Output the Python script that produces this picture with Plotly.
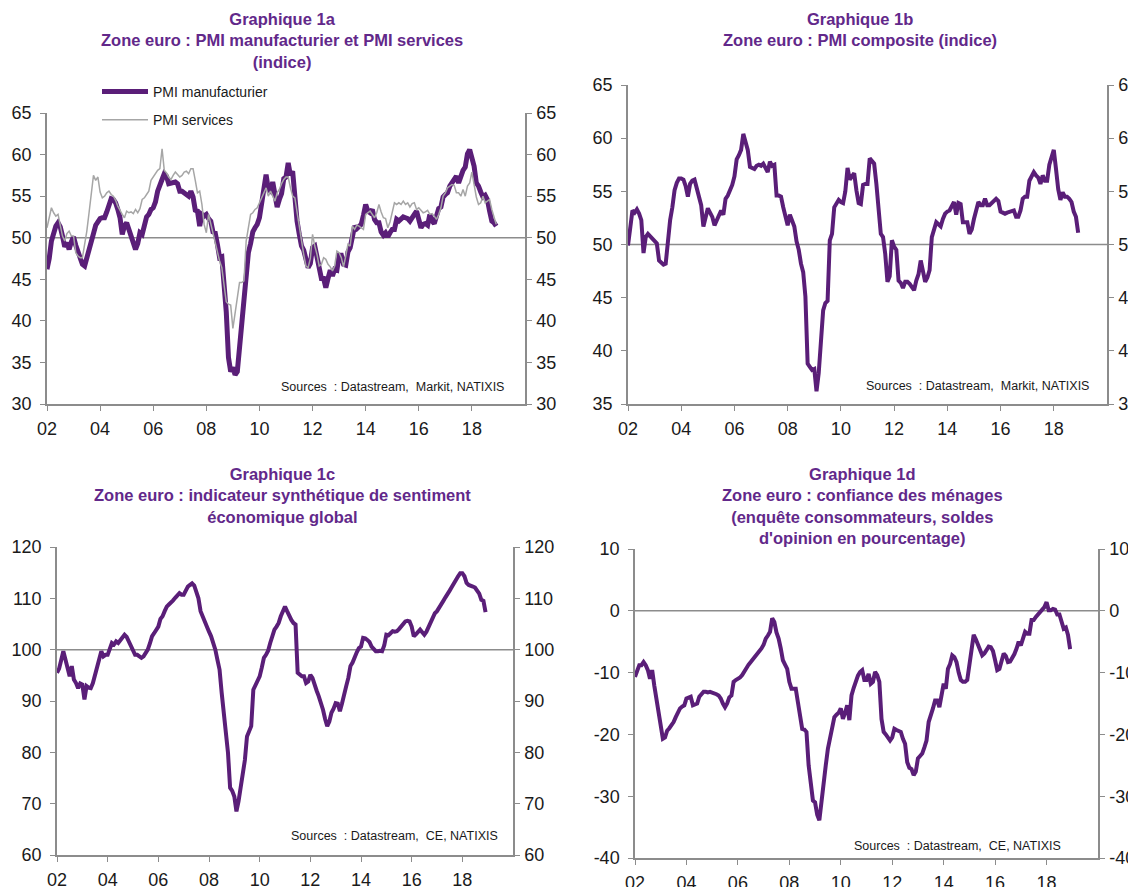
import plotly.graph_objects as go

# ---------------- data (monthly, Jan 2002 -> Dec 2018) ----------------
YEARS = list(range(2002, 2019))

pmi_manufacturier = [
    46.2, 47.5, 49.6, 50.7, 51.4, 51.8, 51.3, 50.2, 48.9, 49.4, 48.6, 49.5,  # 2002
    50.1, 49.1, 48.2, 47.8, 46.8, 46.6, 47.5, 48.4, 49.1, 50.5, 51.5, 52.0,  # 2003
    52.3, 52.4, 52.4, 53.1, 54.2, 54.7, 54.6, 54.2, 53.4, 52.4, 50.4, 51.4,  # 2004
    51.8, 51.0, 50.4, 49.6, 48.6, 49.3, 50.6, 50.4, 51.7, 52.5, 52.8, 53.4,  # 2005
    53.6, 54.3, 55.6, 56.5, 57.0, 57.7, 57.4, 56.5, 56.6, 56.6, 56.7, 56.5,  # 2006
    55.6, 55.6, 55.4, 55.3, 55.0, 55.6, 54.9, 53.3, 53.2, 51.4, 52.8, 52.6,  # 2007
    52.8, 52.3, 52.0, 50.7, 50.6, 49.2, 47.6, 47.7, 45.0, 41.1, 35.6, 33.9,  # 2008
    34.4, 33.5, 33.9, 36.8, 40.7, 42.6, 46.3, 48.2, 49.3, 50.7, 51.2, 51.6,  # 2009
    52.4, 54.2, 56.6, 57.6, 55.8, 55.6, 56.7, 55.1, 53.7, 54.6, 55.3, 57.1,  # 2010
    57.3, 59.0, 57.5, 58.0, 54.6, 52.0, 50.4, 49.0, 48.5, 47.1, 46.4, 46.9,  # 2011
    48.8, 49.0, 47.7, 45.9, 45.1, 45.1, 44.0, 45.1, 46.1, 45.4, 46.2, 46.1,  # 2012
    47.9, 47.9, 46.8, 46.7, 48.3, 48.8, 50.3, 51.4, 51.1, 51.3, 51.6, 52.7,  # 2013
    54.0, 53.2, 53.0, 53.4, 52.2, 51.8, 51.8, 50.7, 50.3, 50.6, 50.1, 50.6,  # 2014
    51.0, 51.0, 52.2, 52.0, 52.2, 52.5, 52.4, 52.3, 52.0, 52.3, 52.8, 53.2,  # 2015
    52.3, 51.2, 51.6, 51.7, 51.5, 52.8, 52.0, 51.7, 52.6, 53.5, 53.7, 54.9,  # 2016
    55.2, 55.4, 56.2, 56.7, 57.0, 57.4, 56.6, 57.4, 58.1, 58.5, 60.1, 60.6,  # 2017
    59.6, 58.6, 56.6, 56.2, 55.5, 54.9, 55.1, 54.6, 53.2, 52.0, 51.8, 51.4,  # 2018
]

pmi_services = [
    51.2, 52.3, 53.6, 53.0, 52.6, 52.8, 51.5, 50.2, 49.6, 50.5, 50.8, 50.2,  # 2002
    50.2, 48.2, 47.8, 47.6, 47.6, 49.0, 50.8, 53.0, 55.5, 57.5, 56.9, 57.3,  # 2003
    55.5, 54.8, 55.0, 55.4, 55.6, 55.2, 55.0, 54.5, 53.8, 53.2, 52.8, 52.4,  # 2004
    53.2, 53.0, 53.1, 52.9, 53.4, 53.0, 53.5, 54.6, 54.8, 55.2, 55.6, 56.9,  # 2005
    57.3, 57.6, 58.1, 58.3, 60.7, 58.1, 57.8, 57.3, 57.0, 57.5, 57.9, 57.6,  # 2006
    57.3, 57.5, 57.9, 58.0, 57.7, 58.3, 58.3, 56.9, 55.4, 55.6, 54.0, 51.6,  # 2007
    50.6, 52.8, 51.6, 50.5, 49.6, 48.0, 47.2, 46.4, 44.0, 42.3, 42.0, 41.9,  # 2008
    39.1, 41.1, 42.5, 44.6, 44.6, 44.8, 49.6, 51.0, 52.8, 53.0, 53.4, 53.6,  # 2009
    54.2, 54.8, 55.4, 56.0, 55.0, 55.6, 55.0, 54.4, 55.4, 55.8, 56.5, 57.0,  # 2010
    57.3, 57.3, 56.0, 55.0, 54.8, 53.0, 51.4, 50.0, 48.0, 46.6, 46.4, 47.5,  # 2011
    50.4, 49.0, 48.0, 46.6, 46.8, 47.6, 47.4, 46.8, 46.5, 46.0, 46.6, 48.4,  # 2012
    48.2, 47.6, 46.5, 47.8, 49.2, 49.0, 51.4, 51.0, 51.5, 51.4, 51.2, 51.0,  # 2013
    52.8, 53.0, 53.2, 52.8, 52.4, 53.0, 54.0, 53.1, 52.4, 52.3, 51.2, 51.9,  # 2014
    53.2, 54.2, 54.0, 54.2, 54.0, 54.4, 54.0, 54.2, 53.7, 54.1, 54.2, 53.4,  # 2015
    53.6, 53.3, 53.0, 53.1, 53.3, 52.8, 52.9, 52.6, 52.2, 52.8, 53.6, 55.0,  # 2016
    55.4, 56.0, 56.2, 56.4, 56.3, 55.4, 55.4, 55.0, 55.8, 55.0, 56.2, 56.6,  # 2017
    57.9, 56.2, 54.9, 54.0, 54.2, 55.0, 54.2, 54.4, 54.6, 53.4, 52.4, 51.6,  # 2018
]

pmi_composite = [
    49.9, 51.8, 53.2, 53.0, 53.3, 52.9, 52.3, 49.2, 50.7, 51.0, 50.8, 50.6,  # 2002
    50.3, 50.1, 48.5, 48.3, 48.1, 48.2, 50.7, 52.3, 53.5, 55.1, 55.8, 56.2,  # 2003
    56.2, 56.1, 55.5, 54.5, 55.7, 56.0, 56.1, 55.3, 54.5, 53.7, 51.7, 52.5,  # 2004
    53.4, 53.0, 52.6, 51.8, 52.2, 52.8, 53.2, 52.8, 54.3, 54.6, 55.1, 55.6,  # 2005
    56.4, 58.0, 58.4, 58.9, 60.4, 59.6, 58.9, 57.3, 57.2, 57.1, 57.4, 57.5,  # 2006
    57.4, 57.6, 57.2, 56.8, 57.8, 57.4, 57.5, 54.6, 54.6, 54.5, 53.5, 52.8,  # 2007
    51.8, 52.8, 52.3, 51.7, 50.3, 49.5, 48.2, 47.4, 45.1, 38.8, 38.5, 38.2,  # 2008
    38.3, 36.2, 37.9, 41.5, 43.8, 44.5, 44.7, 50.4, 51.0, 53.5, 53.8, 54.2,  # 2009
    54.0, 53.9, 55.0, 57.2, 56.1, 56.4, 56.7, 55.1, 53.9, 53.8, 55.6, 55.7,  # 2010
    55.7, 58.1, 57.8, 57.6, 55.7, 53.3, 51.0, 50.7, 49.1, 46.5, 47.0, 50.4,  # 2011
    49.8, 49.5, 46.6, 46.4, 45.9, 46.5, 46.5, 46.3, 45.9, 45.7, 46.6, 47.2,  # 2012
    48.5, 47.6, 46.5, 46.9, 47.6, 50.7, 51.5, 52.1, 51.9, 51.7, 52.4, 52.9,  # 2013
    53.1, 53.2, 53.6, 54.0, 52.8, 53.9, 53.8, 52.1, 52.1, 52.1, 51.0, 51.4,  # 2014
    52.4, 53.3, 54.0, 53.7, 53.7, 54.3, 53.7, 53.7, 53.9, 54.1, 54.3, 54.1,  # 2015
    53.1, 53.0, 52.9, 53.0, 53.1, 53.1, 53.2, 52.6, 52.6, 53.2, 54.3, 54.5,  # 2016
    54.5, 56.0, 56.4, 56.8, 56.5, 56.3, 55.7, 56.5, 56.0, 56.0, 57.5, 58.1,  # 2017
    58.9, 57.1, 55.2, 54.2, 54.9, 54.5, 54.5, 54.3, 54.0, 53.1, 52.6, 51.1,  # 2018
]

sentiment_eco = [
    95.5, 96.3, 98.0, 99.7, 98.1, 96.5, 94.8, 96.8, 94.2, 93.5, 92.5, 93.4,  # 2002
    93.2, 90.3, 92.9, 92.6, 92.5, 93.5, 95.0, 96.1, 98.0, 99.7, 98.7, 99.0,  # 2003
    99.0, 100.5, 101.3, 101.0, 101.6, 101.3, 101.8, 102.6, 102.9, 102.5, 101.6, 100.5,  # 2004
    99.5, 99.0, 99.0, 98.8, 98.4, 98.7, 99.3, 100.0, 101.2, 102.6, 103.2, 103.9,  # 2005
    104.5, 106.0, 106.5, 107.5, 108.4, 108.8, 109.1, 109.6, 110.1, 110.5, 111.0, 110.7,  # 2006
    110.7, 111.5, 112.3, 112.6, 112.9, 112.5, 111.4, 110.0, 107.5, 106.5, 105.5, 104.0,  # 2007
    103.5, 102.6, 101.5, 100.0, 98.0, 96.1, 91.6, 88.0, 83.8, 79.9, 73.1, 72.5,  # 2008
    71.4, 68.5, 70.5, 73.1, 75.6, 78.5, 83.1, 84.0, 85.1, 92.2, 93.0, 94.0,  # 2009
    94.8, 96.5, 98.4, 99.0, 99.8, 101.3, 102.5, 103.9, 104.5, 105.2, 106.5, 107.5,  # 2010
    108.4, 107.5, 106.5, 105.8, 105.2, 104.9, 95.5, 95.0, 94.8, 94.8, 93.5, 93.8,  # 2011
    95.1, 94.5, 92.9, 92.0, 90.9, 89.8, 88.3, 86.5, 85.1, 86.0, 87.7, 88.5,  # 2012
    89.6, 89.5, 88.0, 89.5, 91.6, 92.9, 94.5, 96.8, 97.5, 98.7, 99.5, 100.3,  # 2013
    100.6, 102.3, 102.2, 101.9, 101.5, 100.6, 100.0, 99.7, 99.7, 99.8, 99.7, 100.8,  # 2014
    102.9, 102.8, 103.2, 103.6, 103.5, 103.6, 104.0, 104.5, 105.0, 105.5, 105.6, 105.5,  # 2015
    104.5, 102.6, 103.0, 103.6, 103.9, 103.4, 102.9, 103.5, 104.5, 105.5, 106.5, 107.1,  # 2016
    107.5, 108.3, 109.1, 109.5, 110.2, 110.7, 111.5, 112.2, 113.0, 113.8, 114.3, 114.9,  # 2017
    114.9, 114.3, 113.0, 112.6, 112.5, 112.3, 112.1, 111.6, 110.9, 109.7, 109.5, 107.3,  # 2018
]

confiance_menages = [
    -10.7, -9.5, -8.8, -8.8, -8.3, -8.8, -9.6, -11.0, -9.6, -12.1, -14.5, -16.9,  # 2002
    -18.5, -20.7, -20.5, -19.4, -19.0, -18.5, -18.0, -17.2, -16.5, -15.8, -15.5, -15.3,  # 2003
    -14.2, -14.0, -13.9, -15.3, -15.1, -15.0, -13.9, -13.5, -13.1, -13.1, -13.2, -13.1,  # 2004
    -13.2, -13.4, -13.5, -13.7, -14.2, -15.0, -15.6, -15.0, -14.0, -13.7, -11.5, -11.2,  # 2005
    -11.0, -10.8, -10.4, -9.8, -9.1, -8.7, -8.3, -7.9, -7.5, -7.0, -6.6, -6.1,  # 2006
    -5.5, -4.5, -4.0, -3.4, -1.2, -1.8, -3.5, -4.5, -6.1, -8.0, -8.7, -9.4,  # 2007
    -11.5, -12.6, -12.6, -12.6, -14.8, -17.0, -19.1, -19.2, -19.6, -25.0, -28.0, -30.7,  # 2008
    -31.0, -33.0, -33.9, -30.4, -28.0, -25.0, -22.3, -20.5, -19.1, -17.2, -16.8, -16.5,  # 2009
    -15.8, -17.5, -16.5, -15.3, -17.7, -13.7, -12.5, -11.2, -10.5, -9.9, -9.6, -11.2,  # 2010
    -11.2, -10.2, -11.8, -11.5, -9.9, -10.4, -11.5, -17.5, -19.6, -20.0, -20.5, -21.0,  # 2011
    -20.5, -19.1, -19.3, -19.4, -19.6, -20.7, -21.5, -24.5, -25.4, -25.6, -26.6, -26.0,  # 2012
    -23.9, -23.5, -23.1, -22.1, -21.0, -18.0, -17.0, -15.8, -14.5, -14.5, -15.6, -13.5,  # 2013
    -11.8, -12.6, -9.4, -8.6, -7.2, -7.5, -8.3, -10.0, -11.2, -11.5, -11.5, -11.2,  # 2014
    -8.5, -6.5, -3.9, -4.6, -5.6, -6.6, -7.2, -6.9, -6.2, -5.8, -5.9, -6.5,  # 2015
    -8.0, -9.6, -9.4, -8.3, -6.9, -7.3, -8.3, -8.2, -7.7, -7.0, -6.1, -5.0,  # 2016
    -5.6, -4.5, -3.4, -3.7, -3.7, -1.5, -1.5, -1.0, -0.6, -0.2, 0.1, 0.6,  # 2017
    1.4, 0.1, 0.1, 0.3, 0.2, -0.6, -0.6, -1.9, -2.9, -2.7, -3.9, -6.2,  # 2018
]

# x positions: decimal years for each month
dates = [y + m / 12 for y in YEARS for m in range(12)]

x_tickvals = [2002, 2004, 2006, 2008, 2010, 2012, 2014, 2016, 2018]
x_ticktext = ["02", "04", "06", "08", "10", "12", "14", "16", "18"]
x_range = [2002, 2020]

y_ticks_1a, ref_1a = [30, 35, 40, 45, 50, 55, 60, 65], 50
y_ticks_1b, ref_1b = [35, 40, 45, 50, 55, 60, 65], 50
y_ticks_1c, ref_1c = [60, 70, 80, 90, 100, 110, 120], 100
y_ticks_1d, ref_1d = [-40, -30, -20, -10, 0, 10], 0

titles = [
    "<b>Graphique 1a<br>Zone euro : PMI manufacturier et PMI services<br>(indice)</b>",
    "<b>Graphique 1b<br>Zone euro : PMI composite (indice)</b>",
    "<b>Graphique 1c<br>Zone euro : indicateur synthétique de sentiment<br>économique global</b>",
    "<b>Graphique 1d<br>Zone euro : confiance des ménages<br>(enquête consommateurs, soldes<br>d'opinion en pourcentage)</b>",
]
sources = [
    "Sources  : Datastream,  Markit, NATIXIS",
    "Sources  : Datastream,  Markit, NATIXIS",
    "Sources  : Datastream,  CE, NATIXIS",
    "Sources  : Datastream,  CE, NATIXIS",
]

# ---------------- styling ----------------
PAGE_OFFSET = 8          # default body margin of the html page
W, H = 1136, 887
PURPLE = "#5A1E78"
TITLE_PURPLE = "#62288A"
GREY_LINE = "#A6A6A6"
AXIS = "#8C8C8C"
FONT = "Arial, Liberation Sans, sans-serif"


def px_x(v):
    return (v - PAGE_OFFSET) / W


def px_y(v):
    return 1 - (v - PAGE_OFFSET) / H


# plot areas in screen pixels: (left, right, top, bottom)
areas = [
    (47, 525, 113, 404),
    (628, 1107, 85, 404),
    (57, 513, 547, 855),
    (635, 1098, 549, 858),
]
yspecs = [
    (y_ticks_1a, ref_1a),
    (y_ticks_1b, ref_1b),
    (y_ticks_1c, ref_1c),
    (y_ticks_1d, ref_1d),
]
panel_series = [
    [("PMI manufacturier", pmi_manufacturier, PURPLE, 5, True, "a"),
     ("PMI services", pmi_services, GREY_LINE, 1.5, True, "b")],
    [("PMI composite", pmi_composite, PURPLE, 4, False, None)],
    [("Sentiment économique", sentiment_eco, PURPLE, 4, False, None)],
    [("Confiance des ménages", confiance_menages, PURPLE, 4, False, None)],
]

fig = go.Figure()
for i, series in enumerate(panel_series):
    n = i + 1
    xid = "x" if n == 1 else f"x{n}"
    yid = "y" if n == 1 else f"y{n}"
    for name, vals, col, w, leg, grp in series:
        fig.add_trace(go.Scatter(x=dates, y=vals, mode="lines", name=name,
                                 line=dict(color=col, width=w), xaxis=xid, yaxis=yid,
                                 showlegend=leg, legendgroup=grp))
    # invisible copy on the right-hand axis so that axis is drawn
    name, vals = series[0][0], series[0][1]
    fig.add_trace(go.Scatter(x=dates, y=vals, mode="lines", name=name, opacity=0,
                             line=dict(color=PURPLE, width=1), xaxis=xid, yaxis=f"y{n + 4}",
                             showlegend=False, hoverinfo="skip"))

layout = dict(
    template="none",
    width=W, height=H,
    margin=dict(l=0, r=0, t=0, b=0, pad=0, autoexpand=False),
    paper_bgcolor="white", plot_bgcolor="white",
    font=dict(family=FONT, color="#1a1a1a"),
    showlegend=True,
    legend=dict(x=px_x(97), y=px_y(76), xanchor="left", yanchor="top",
                bgcolor="rgba(0,0,0,0)", font=dict(size=14, color="#1a1a1a", family=FONT),
                tracegroupgap=7, itemwidth=46, borderwidth=0),
)

shapes = []
annotations = []
tickfont = dict(size=18, color="#1a1a1a", family=FONT)
common = dict(showgrid=False, zeroline=False, showline=True, linecolor=AXIS, linewidth=1.5,
              ticks="outside", ticklen=5, tickcolor=AXIS, tickwidth=1.2, tickfont=tickfont,
              automargin=False)

for i, ((l, r, t, b), (yt, ref)) in enumerate(zip(areas, yspecs)):
    n = i + 1
    xname = "xaxis" if n == 1 else f"xaxis{n}"
    yname = "yaxis" if n == 1 else f"yaxis{n}"
    xid = "x" if n == 1 else f"x{n}"
    yid = "y" if n == 1 else f"y{n}"
    yr = [yt[0], yt[-1]]
    ytext = [str(v) for v in yt]
    layout[xname] = dict(domain=[px_x(l), px_x(r)], anchor=yid, range=x_range,
                         tickmode="array", tickvals=x_tickvals, ticktext=x_ticktext,
                         ticklabelstandoff=3, **common)
    layout[yname] = dict(domain=[px_y(b), px_y(t)], anchor=xid, range=yr,
                         tickmode="array", tickvals=yt, ticktext=ytext,
                         ticklabelstandoff=5, **common)
    layout[f"yaxis{n + 4}"] = dict(overlaying=yid, side="right", anchor=xid, range=yr,
                                   tickmode="array", tickvals=yt, ticktext=ytext,
                                   ticklabelstandoff=1, **common)
    shapes.append(dict(type="line", xref=f"{xid} domain", x0=0, x1=1, yref=yid, y0=ref, y1=ref,
                       line=dict(color=AXIS, width=1.5), layer="below"))

# titles
title_pos = [(282, 8), (860, 8), (282, 463), (862, 463)]
for (cx, ty), txt in zip(title_pos, titles):
    annotations.append(dict(text=txt, x=px_x(cx), y=px_y(ty), xref="paper", yref="paper",
                            xanchor="center", yanchor="top", showarrow=False, align="center",
                            font=dict(size=16.5, color=TITLE_PURPLE, family=FONT)))

# sources
src_pos = [(506, 387), (1091, 386), (500, 836), (1063, 846)]
for (rx, sy), txt in zip(src_pos, sources):
    annotations.append(dict(text=txt, x=px_x(rx), y=px_y(sy), xref="paper", yref="paper",
                            xanchor="right", yanchor="middle", showarrow=False,
                            font=dict(size=12.5, color="#1a1a1a", family=FONT)))

layout["shapes"] = shapes
layout["annotations"] = annotations
fig.update_layout(**layout)

fig.write_html("out.html")
